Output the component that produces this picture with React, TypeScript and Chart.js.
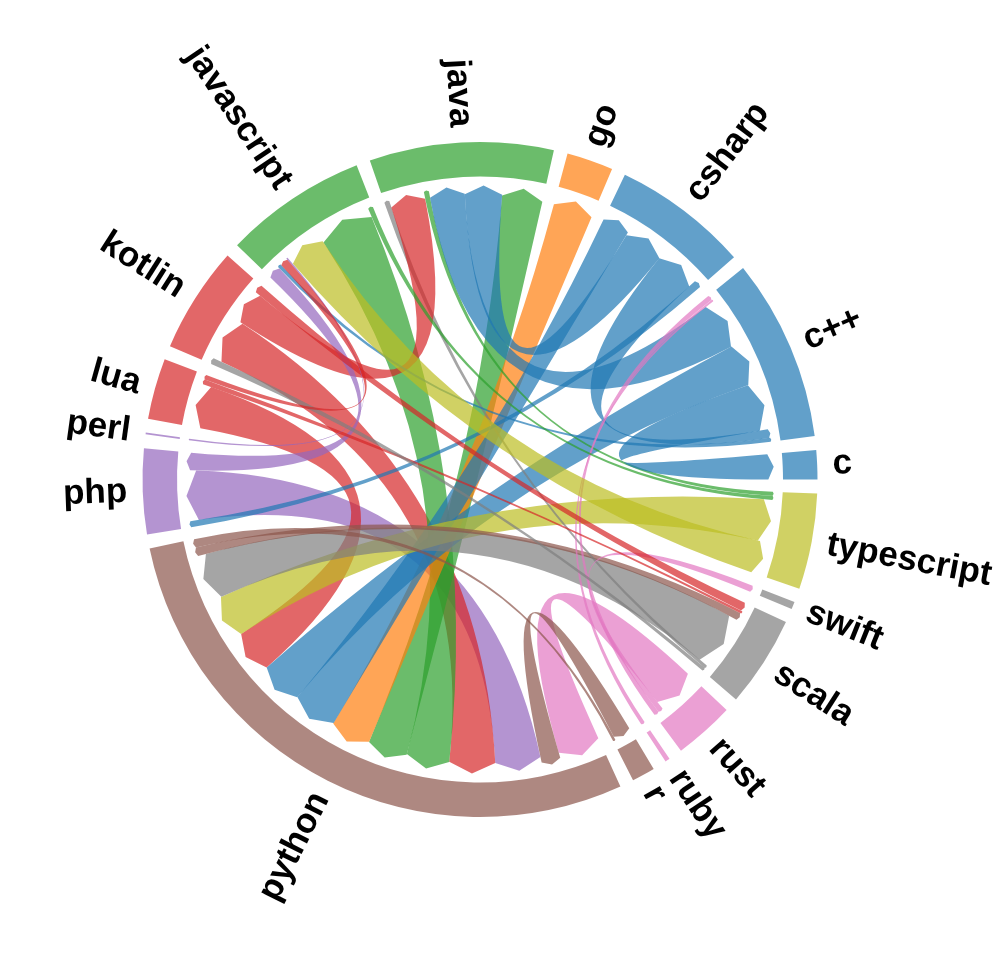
import React, { useEffect, useRef } from "react";
import { Chart, registerables } from "chart.js";

Chart.register(...registerables);

// Nodes (alphabetical, laid out counter-clockwise from angle 0)
const nodes = [
  "c", "c++", "csharp", "go", "java", "javascript", "kotlin", "lua", "perl",
  "php", "python", "r", "ruby", "rust", "scala", "swift", "typescript",
];

const nodeColors = [
  "#1f77b4", "#1f77b4", "#1f77b4", "#ff7f0e", "#2ca02c", "#2ca02c", "#d62728",
  "#d62728", "#9467bd", "#9467bd", "#8c564b", "#8c564b", "#e377c2", "#e377c2",
  "#7f7f7f", "#7f7f7f", "#bcbd22",
];

// [from, to, weight at "from" end, weight at "to" end, order at "from" node, order at "to" node]
const links: [string, string, number, number, number, number][] = [
  ["rust", "python", 8.4, 8.5, 0, 0],
  ["r", "python", 3.5, 3.8, 0, 1],
  ["php", "python", 10, 9.2, 1, 2],
  ["kotlin", "python", 8.8, 9.3, 1, 3],
  ["javascript", "python", 11, 8.7, 5, 4],
  ["java", "python", 8.2, 8, 5, 5],
  ["go", "python", 8, 8.1, 0, 6],
  ["csharp", "python", 5.5, 9, 0, 7],
  ["c++", "python", 8.5, 8.6, 3, 8],
  ["lua", "python", 8.6, 8.5, 0, 9],
  ["typescript", "python", 8.4, 8.5, 2, 10],
  ["scala", "python", 10.7, 9.2, 3, 11],
  ["python", "scala", 1.7, 1.5, 12, 2],
  ["python", "r", 1.7, 0.5, 13, 1],
  ["scala", "java", 0.6, 1.0, 4, 0],
  ["kotlin", "java", 6.6, 7, 2, 1],
  ["java", "typescript", 1, 0.8, 2, 0],
  ["csharp", "java", 8.1, 7.5, 1, 4],
  ["c++", "java", 9.5, 7, 2, 3],
  ["c++", "c", 9.5, 5, 4, 0],
  ["csharp", "c++", 8.3, 1.7, 2, 5],
  ["csharp", "php", 1.5, 1.2, 3, 0],
  ["c++", "javascript", 0.8, 0.7, 6, 1],
  ["rust", "c++", 1, 1, 2, 0],
  ["rust", "swift", 1, 1.3, 1, 0],
  ["ruby", "c++", 0.8, 0.4, 0, 1],
  ["typescript", "javascript", 6.5, 7.5, 3, 4],
  ["javascript", "typescript", 1, 0.8, 6, 1],
  ["php", "javascript", 3.5, 2.5, 2, 0],
  ["kotlin", "scala", 1.7, 1.7, 3, 0],
  ["lua", "scala", 1, 0.5, 1, 1],
  ["scala", "kotlin", 0.7, 1.2, 5, 0],
  ["perl", "javascript", 0.3, 0.3, 0, 3],
  ["lua", "javascript", 0.9, 1.6, 2, 2],
];

function rgba(hex: string, a: number) {
  const n = parseInt(hex.slice(1), 16);
  return `rgba(${(n >> 16) & 255},${(n >> 8) & 255},${n & 255},${a})`;
}

const totals = nodes.map((n) =>
  links.reduce((s, l) => s + (l[0] === n ? l[2] : 0) + (l[1] === n ? l[3] : 0), 0)
);
const grand = totals.reduce((a, b) => a + b, 0);
const pad = (360 - grand) / nodes.length;

// doughnut drawn clockwise from 3 o'clock: reversed node order, with a pad before each node
const ringData: number[] = [];
const ringLabels: string[] = [];
const ringColors: string[] = [];
const nodeDataIndex: number[] = new Array(nodes.length);
for (let k = nodes.length - 1; k >= 0; k--) {
  ringData.push(pad);
  ringLabels.push("");
  ringColors.push("rgba(0,0,0,0)");
  nodeDataIndex[k] = ringData.length;
  ringData.push(totals[k]);
  ringLabels.push(nodes[k]);
  ringColors.push(rgba(nodeColors[k], 0.7));
}

const OUTER = 337.5;
const INNER = 303;
const RIBBON_R = 294;
const LABEL_R = 353;

const chordPlugin = {
  id: "chords",
  afterDatasetsDraw(chart: any) {
    const meta = chart.getDatasetMeta(0);
    const ctx: CanvasRenderingContext2D = chart.ctx;
    const cx = meta.data[0].x;
    const cy = meta.data[0].y;
    const ends: Record<string, [number, number]> = {};
    nodes.forEach((n, k) => {
      const arc = meta.data[nodeDataIndex[k]];
      const s = arc.startAngle;
      const e = arc.endAngle;
      const per = (e - s) / totals[k];
      const list: { key: string; w: number; rank: number }[] = [];
      links.forEach((l, li) => {
        if (l[0] === n) list.push({ key: li + "-0", w: l[2], rank: l[4] });
        if (l[1] === n) list.push({ key: li + "-1", w: l[3], rank: l[5] });
      });
      list.sort((a, b) => a.rank - b.rank);
      let a = s;
      list.forEach((it) => {
        const a1 = a + it.w * per;
        ends[it.key] = [a, a1];
        a = a1;
      });
    });
    const pt = (ang: number, r: number): [number, number] => [
      cx + r * Math.cos(ang),
      cy + r * Math.sin(ang),
    ];
    ctx.save();
    links.forEach((l, li) => {
      const [a0, a1] = ends[li + "-0"];
      const [b0, b1] = ends[li + "-1"];
      const sa = Math.min(10, 0.22 * (a1 - a0) * RIBBON_R);
      const sb = Math.min(10, 0.22 * (b1 - b0) * RIBBON_R);
      ctx.beginPath();
      ctx.moveTo(...pt(a0, RIBBON_R - sa));
      ctx.lineTo(...pt((a0 + a1) / 2, RIBBON_R));
      ctx.lineTo(...pt(a1, RIBBON_R - sa));
      const p1 = pt(b0, RIBBON_R - sb);
      ctx.quadraticCurveTo(cx, cy, p1[0], p1[1]);
      ctx.lineTo(...pt((b0 + b1) / 2, RIBBON_R));
      ctx.lineTo(...pt(b1, RIBBON_R - sb));
      const p2 = pt(a0, RIBBON_R - sa);
      ctx.quadraticCurveTo(cx, cy, p2[0], p2[1]);
      ctx.closePath();
      ctx.fillStyle = rgba(nodeColors[nodes.indexOf(l[0])], 0.7);
      ctx.fill();
    });
    // labels
    ctx.fillStyle = "#000";
    ctx.font = 'bold 35px "Liberation Sans", Arial, sans-serif';
    ctx.textBaseline = "middle";
    nodes.forEach((n, k) => {
      const arc = meta.data[nodeDataIndex[k]];
      let mid = (arc.startAngle + arc.endAngle) / 2;
      mid = Math.atan2(Math.sin(mid), Math.cos(mid));
      ctx.save();
      ctx.translate(cx, cy);
      if (mid > -Math.PI / 2 && mid < Math.PI / 2) {
        ctx.rotate(mid);
        ctx.textAlign = "left";
        ctx.fillText(n, LABEL_R, 0);
      } else {
        ctx.rotate(mid + Math.PI);
        ctx.textAlign = "right";
        ctx.fillText(n, -LABEL_R, 0);
      }
      ctx.restore();
    });
    ctx.restore();
  },
};

export default function App() {
  const ref = useRef<HTMLCanvasElement | null>(null);
  useEffect(() => {
    document.body.style.margin = "0";
    if (!ref.current) return;
    const chart = new Chart(ref.current, {
      type: "doughnut",
      data: {
        labels: ringLabels,
        datasets: [
          {
            data: ringData,
            backgroundColor: ringColors,
            borderWidth: 0,
            radius: OUTER,
            cutout: `${(INNER / OUTER) * 100}%`,
            rotation: 90,
          } as any,
        ],
      },
      options: {
        responsive: false,
        animation: false,
        events: [],
        rotation: 90,
        layout: { padding: { left: 0, right: 36, top: 0, bottom: 0 } },
        plugins: {
          legend: { display: false },
          tooltip: { enabled: false },
        },
      } as any,
      plugins: [chordPlugin],
    });
    return () => chart.destroy();
  }, []);
  return (
    <div style={{ position: "absolute", left: 0, top: 0, width: 996, height: 959, background: "#fff" }}>
      <canvas ref={ref} width={996} height={959} />
    </div>
  );
}
